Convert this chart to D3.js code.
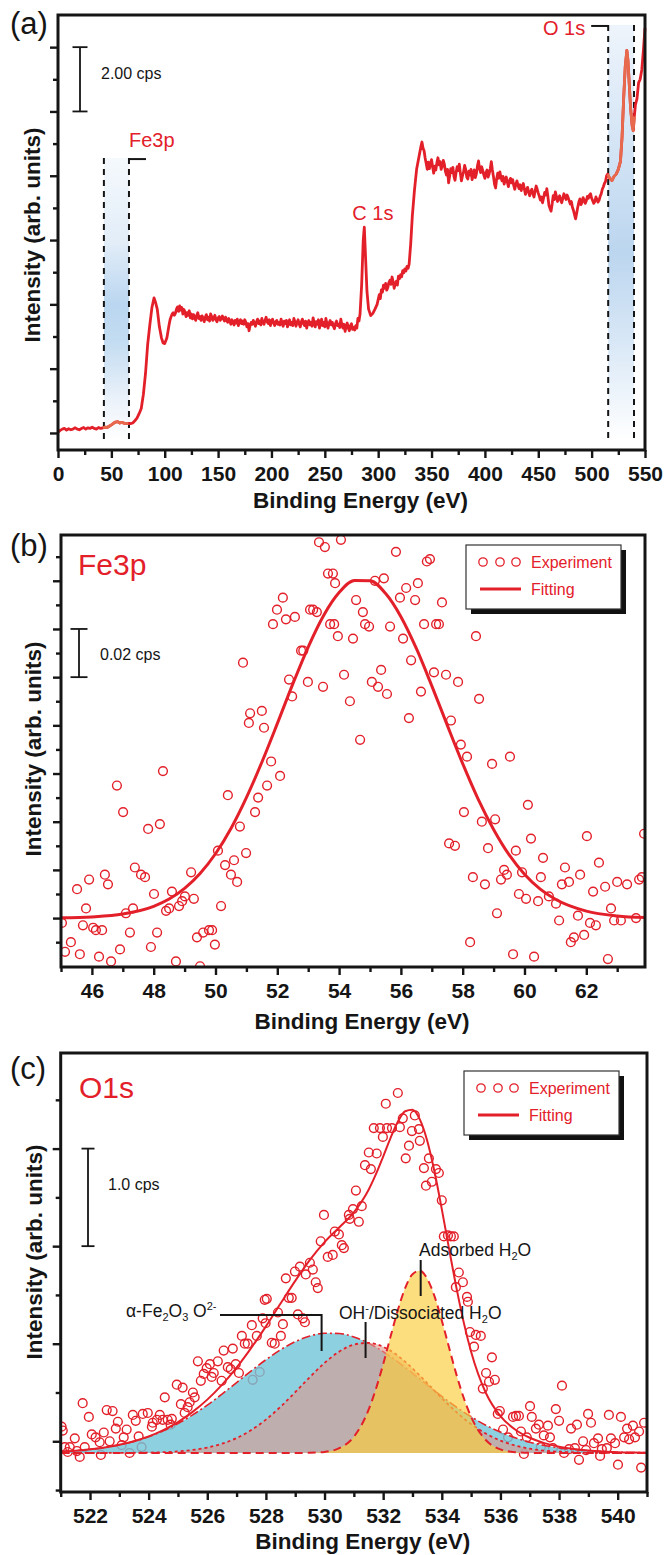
<!DOCTYPE html>
<html>
<head>
<meta charset="utf-8">
<script src="https://cdn.jsdelivr.net/npm/d3@7"></script>
<style>
  body { margin: 0; background: #fff; }
  svg { display: block; }
</style>
</head>
<body>
<svg id="fig" width="664" height="1555"></svg>
<script>
// ---------------- data ----------------
// (a) survey spectrum: [binding energy (eV), intensity (cps)]
const surveySpectrum = [
  [0,.02],[2,.08],[4,.12],[6,.14],[8,.09],[10,.13],[12,.10],[14,.12],[16,.16],[18,.12],[20,.10],[22,.14],[24,.17],[26,.12],[28,.16],[30,.14],[32,.18],[34,.14],[36,.12],[38,.17],[40,.14],[42,.16],
  [44,.18],[46,.17],[48,.21],[50,.25],[52,.30],[54,.34],[56,.35],[58,.31],[60,.33],[62,.30],[64,.29],[66,.30],[68,.29],[70,.31],[72,.38],[74,.46],[76,.60],[78,.76],[80,1.20],[82,1.85],[84,2.75],[86,3.35],[88,3.90],[90,4.20],[91.5,4.05],[93,3.85],[95,3.30],[97,2.95],[98.5,2.80],[100,2.78],[102,2.95],
  [104,3.35],[105,3.52],[106,3.62],[107,3.70],[108,3.74],[109,3.66],[110,3.72],[111,3.85],[112,3.92],[113,3.78],[114,3.95],[115,3.82],[116,3.90],[117,3.70],[118,3.84],[119,3.76],[120,3.62],[121,3.74],[122,3.66],[123,3.80],[124,3.58],[125,3.70],[126,3.55],[127,3.68],[128,3.60],[129,3.50],[130,3.66],[131,3.74],[132,3.56],[133,3.62],[134,3.50],[135,3.64],[136,3.58],[137,3.46],[138,3.60],[139,3.68],[140,3.52],[141,3.60],[142,3.48],[143,3.70],[144,3.62],[145,3.50],[146,3.58],[147,3.66],[148,3.52],[149,3.46],[150,3.58],
  [151,3.62],[152,3.50],[153,3.56],[154,3.64],[155,3.54],[156,3.48],[157,3.60],[158,3.50],[159,3.44],[160,3.56],[161,3.48],[162,3.38],[163,3.52],[164,3.44],[165,3.36],[166,3.50],[167,3.42],[168,3.54],[169,3.34],[170,3.46],[171,3.52],[172,3.40],[173,3.48],[174,3.38],[175,3.52],[176,3.44],[177,3.30],[178,3.40],[179,3.18],[180,3.34],[181,3.44],[182,3.38],[183,3.50],[184,3.42],[185,3.32],[186,3.46],[187,3.54],[188,3.40],[189,3.48],[190,3.36],[191,3.56],[192,3.44],[193,3.38],[194,3.50],[195,3.60],[196,3.46],[197,3.40],[198,3.52],[199,3.34],[200,3.48],
  [201,3.54],[202,3.42],[203,3.34],[204,3.46],[205,3.50],[206,3.38],[207,3.44],[208,3.36],[209,3.54],[210,3.42],[211,3.32],[212,3.48],[213,3.40],[214,3.50],[215,3.30],[216,3.42],[217,3.52],[218,3.36],[219,3.44],[220,3.34],[221,3.56],[222,3.46],[223,3.32],[224,3.44],[225,3.52],[226,3.38],[227,3.30],[228,3.46],[229,3.54],[230,3.40],[231,3.34],[232,3.48],[233,3.26],[234,3.42],[235,3.50],[236,3.36],[237,3.44],[238,3.32],[239,3.58],[240,3.44],[241,3.30],[242,3.46],[243,3.38],[244,3.52],[245,3.26],[246,3.40],[247,3.54],[248,3.34],[249,3.44],[250,3.30],
  [251,3.56],[252,3.40],[253,3.26],[254,3.42],[255,3.50],[256,3.36],[257,3.44],[258,3.32],[259,3.24],[260,3.40],[261,3.48],[262,3.34],[263,3.38],[264,3.28],[265,3.54],[266,3.36],[267,3.26],[268,3.38],[269,3.16],[270,3.32],[271,3.42],[272,3.26],[273,3.18],[274,3.34],[275,3.40],[276,3.22],[277,3.28],[278,3.20],[279,3.34],[280,3.26],[281,3.56],[282,3.48],[283,3.70],
  [284.5,4.60],[286,6.00],[287,6.40],[288,5.60],[289.5,4.40],[291,3.85],[293,3.65],[295,3.72],[297,3.85],[299,4.00],[301,4.30],[302,4.18],[303,4.45],[304,4.38],[305,4.60],[306,4.50],[307,4.65],[308,4.44],[309,4.52],[310,4.68],[311,4.75],[312,4.62],[313,4.85],[314,4.70],[315,4.50],[316,4.64],[317,4.72],[318,4.60],[319,4.88],[320,4.80],[321,4.92],[322,4.86],[323,5.05],[324,4.98],[325,5.10],[326,5.04],[327,5.18],[328,5.12],[329,5.25],
  [330.5,5.90],[332,6.75],[334,7.55],[336,8.20],[338,8.55],[340,8.90],[341,9.05],[342,8.86],
  [343,8.78],[344,8.55],[345,8.38],[346,8.20],[347,8.42],[348,8.22],[349,8.36],[350,8.50],[351,8.28],[352,8.08],[353,8.30],[354,8.18],[355,8.40],[356,8.56],[357,8.34],[358,8.44],[359,8.20],[360,8.30],[361,8.48],[362,8.36],[363,8.14],[364,8.02],[365,8.20],[366,7.78],[367,8.00],[368,8.22],[369,8.10],[370,8.26],[371,7.98],[372,7.86],[373,8.10],[374,8.28],[375,8.16],[376,8.36],[377,8.08],[378,7.84],[379,8.00],[380,8.12],[381,8.32],[382,8.20],[383,7.96],[384,7.90],[385,8.14],[386,8.02],[387,8.20],[388,7.88],[389,8.02],[390,8.18],[391,7.94],[392,8.06],[393,8.30],[394,8.46],[395,8.22],[396,8.10],[397,8.28],[398,8.16],[399,8.02],[400,7.92],
  [401,8.10],[402,8.18],[403,7.96],[404,8.06],[405,8.22],[406,8.44],[407,8.18],[408,7.98],[409,7.74],[410,7.62],[411,7.90],[412,8.08],[413,7.92],[414,8.12],[415,7.96],[416,7.84],[417,7.98],[418,7.74],[419,7.86],[420,7.96],[421,7.80],[422,7.66],[423,7.84],[424,7.92],[425,7.78],[426,7.88],[427,7.70],[428,7.58],[429,7.74],[430,7.84],[431,7.70],[432,7.60],[433,7.72],[434,7.54],[435,7.66],[436,7.76],[437,7.58],[438,7.42],[439,7.56],[440,7.64],[441,7.48],[442,7.38],[443,7.52],[444,7.58],[445,7.44],[446,7.34],[447,7.52],[448,7.68],[449,7.58],[450,7.46],
  [451,7.36],[452,7.24],[453,7.34],[454,7.16],[455,7.32],[456,7.48],[457,7.40],[458,7.60],[459,7.36],[460,7.08],[461,6.98],[462,6.90],[463,7.12],[464,7.38],[465,7.26],[466,7.50],[467,7.36],[468,7.20],[469,7.30],[470,7.38],[471,7.24],[472,7.16],[473,7.30],[474,7.44],[475,7.34],[476,7.26],[477,7.40],[478,7.32],[479,7.22],[480,7.12],[481,7.20],[482,7.02],[483,6.92],[484,6.78],[485,6.66],[486,6.84],[487,7.02],[488,7.18],[489,7.28],[490,7.10],[491,7.18],[492,7.32],[493,7.24],[494,7.14],[495,7.22],[496,7.36],[497,7.30],[498,7.40],[499,7.44],[500,7.30],
  [501,7.22],[502,7.14],[503,7.20],[504,7.34],[505,7.26],[506,7.18],[507,7.24],[508,7.36],[509,7.44],[510,7.58],[511,7.66],[512,7.76],[513,7.82],[514,8.00],
  [515,8.05],[517,7.92],[519,7.85],[521,7.98],[523,8.05],[525,8.20],[527,8.45],[528.5,9.20],[530,10.40],[531.5,11.40],[533,11.90],[534,11.60],[535,11.00],[536.5,10.10],[538,9.55],[539,9.40],[540,9.85],[541,10.20],[542.5,10.40],[544,10.90],[545.5,11.00],[547,11.30],[548.5,11.90],[550,12.60]
];
// energy windows picked out in the survey (eV)
const surveyWindows = [
  { name: "Fe3p", from: 43, to: 66.5 },
  { name: "O 1s", from: 515.5, to: 539.7 }
];
const surveyPeaks = [{ name: "C 1s", energy: 287 }];
const surveyXMajor = [0,50,100,150,200,250,300,350,400,450,500,550];
const surveyXMinor = [25,75,125,175,225,275,325,375,425,475,525];
const surveyYMajor = [0,2,4,6,8,10,12];
const surveyYMinor = [1,3,5,7,9,11];

// (b) Fe 3p high-resolution scan: [binding energy (eV), intensity (cps)]
const fe3pExperiment = [
  [45.03,-.002],[45.13,-.014],[45.32,-.010],[45.52,.012],[45.61,-.015],[45.71,-.003],[45.81,.004],[45.91,.016],[46.04,-.004],[46.13,-.005],[46.23,-.016],[46.33,-.005],[46.42,.018],[46.52,.014],[46.62,-.018],[46.81,.055],[46.91,-.013],[47.01,.044],[47.10,.002],[47.23,-.006],[47.33,.004],[47.39,.021],[47.59,.018],[47.72,.017],[47.82,.037],[47.91,-.012],[48.01,.010],[48.11,-.006],[48.20,.039],[48.30,.061],[48.40,.003],[48.50,.004],[48.59,.011],[48.72,-.018],[48.82,.005],[48.92,.007],[49.01,.009],[49.21,.019],[49.30,.008],[49.40,-.008],[49.50,-.020],[49.60,-.006],[49.79,-.005],[49.89,-.005],[49.98,-.011],
  [50.08,.028],[50.18,.005],[50.31,.022],[50.40,.051],[50.50,.018],[50.60,.024],[50.70,.015],[50.79,.038],[50.89,.106],[50.99,.027],[51.08,.081],[51.12,.085],[51.28,.044],[51.38,.050],[51.50,.086],[51.57,.079],[51.67,.055],[51.80,.065],[51.86,.122],[51.99,.128],[52.09,.059],[52.18,.133],[52.28,.124],[52.38,.099],[52.48,.092],[52.57,.125],[52.77,.111],[52.84,.111],[52.99,.098],[53.06,.128],[53.16,.128],[53.28,.127],[53.35,.156],[53.48,.096],[53.54,.154],[53.64,.143],[53.71,.122],[53.80,.143],[53.84,.122],[53.87,.139],[53.96,.117],
  [54.06,.157],[54.16,.101],[54.35,.090],[54.45,.116],[54.55,.132],[54.68,.074],[54.77,.127],[54.84,.122],[54.97,.121],[55.06,.098],[55.16,.140],[55.26,.096],[55.36,.103],[55.45,.141],[55.55,.093],[55.65,.121],[55.84,.152],[55.97,.133],[56.07,.116],[56.17,.137],[56.26,.083],[56.33,.107],[56.46,.132],[56.55,.139],[56.65,.094],[56.75,.122],[56.84,.148],[56.94,.149],[57.07,.102],[57.14,.122],[57.23,.122],[57.33,.131],[57.46,.101],[57.56,.031],[57.62,.082],[57.75,.030],[57.85,.098],[57.94,.072],
  [58.04,.044],[58.14,.067],[58.24,-.010],[58.33,.017],[58.43,.117],[58.53,.091],[58.62,.040],[58.72,.014],[58.82,.029],[58.95,.064],[59.05,.041],[59.11,.002],[59.24,.016],[59.34,.020],[59.43,.018],[59.53,.067],[59.63,-.015],[59.72,.028],[59.82,.010],[59.92,.019],[60.05,.008],[60.11,.047],[60.21,.033],[60.31,-.016],[60.44,.007],[60.53,.017],[60.60,.025],[60.79,.009],[61.02,.006],[61.12,-.001],[61.21,.014],[61.31,.021],[61.44,.015],[61.50,-.010],[61.60,-.008],[61.73,.001],[61.80,.018],[61.93,-.007],
  [62.02,.034],[62.12,-.002],[62.22,.011],[62.31,-.003],[62.41,.023],[62.61,.013],[62.70,-.017],[62.80,.004],[62.90,-.001],[63.00,.015],[63.12,-.001],[63.32,.014],[63.61,.000],[63.71,.016],[63.80,.017],[63.87,.035]
];
const fe3pFit = [
  [45,.0001],[46,.0005],[47,.0017],[48,.0049],[48.5,.0079],[49,.0123],[49.5,.0185],[50,.0267],[50.5,.0372],[51,.0500],[51.5,.0647],[52,.0807],[52.5,.0971],[53,.1125],[53.5,.1256],[54,.1351],[54.5,.1401],[55,.1400],[55.5,.1348],[56,.1251],[56.5,.1119],[57,.0964],[57.5,.0801],[58,.0641],[58.5,.0494],[59,.0368],[59.5,.0263],[60,.0182],[60.5,.0121],[61,.0078],[62,.0029],[63,.0009],[63.9,.0002]
];
const fe3pXMajor = [46,48,50,52,54,56,58,60,62];
const fe3pXMinor = [45,47,49,51,53,55,57,59,61,63];
const fe3pYMajor = [0,.02,.04,.06,.08,.10,.12,.14];
const fe3pYMinor = [-.01,.01,.03,.05,.07,.09,.11,.13,.15];

// (c) O 1s high-resolution scan: [binding energy (eV), intensity (cps)]
const o1sExperiment = [
  [521.03,2.15],[521.07,2.11],[521.14,1.94],[521.24,1.89],[521.31,1.94],[521.48,2.03],[521.55,1.90],[521.65,1.84],[521.75,2.39],[521.82,1.94],[521.96,2.25],[522.06,2.07],[522.19,2.04],[522.33,1.99],[522.37,1.86],[522.47,2.09],[522.57,2.32],[522.67,2.00],[522.77,2.31],[522.88,2.13],[522.95,2.20],[523.08,1.96],[523.15,2.04],[523.25,2.12],[523.35,1.88],[523.46,2.27],[523.56,2.21],[523.66,2.05],[523.76,1.94],[523.80,2.28],[523.97,2.29],
  [524.11,2.15],[524.14,2.19],[524.28,2.22],[524.38,2.27],[524.48,2.22],[524.55,2.45],[524.65,2.22],[524.75,2.17],[524.79,2.23],[524.96,2.58],[525.10,2.38],[525.16,2.55],[525.23,2.29],[525.33,2.35],[525.40,2.40],[525.51,2.50],[525.57,2.45],[525.68,2.82],[525.78,2.62],[525.88,2.69],[525.98,2.75],[526.09,2.79],[526.15,2.66],[526.22,2.70],[526.36,2.82],[526.49,2.62],[526.56,2.93],[526.70,2.76],[526.80,2.74],[526.87,2.95],[526.97,2.79],
  [527.08,2.70],[527.18,3.08],[527.28,3.00],[527.38,3.00],[527.52,3.19],[527.55,2.63],[527.69,3.08],[527.79,2.71],[527.89,3.26],[527.96,3.45],[527.99,3.21],[528.03,3.46],[528.20,3.01],[528.30,3.00],[528.41,3.32],[528.51,3.08],[528.58,3.20],[528.68,3.67],[528.78,3.47],[528.88,3.47],[528.99,3.74],[529.09,3.30],[529.16,3.79],[529.26,3.26],[529.33,3.22],[529.36,3.71],[529.50,3.83],[529.60,3.76],[529.70,3.63],[529.77,3.57],[529.87,4.05],[529.98,4.32],
  [530.11,3.89],[530.28,3.91],[530.35,4.15],[530.49,4.12],[530.59,4.01],[530.66,3.98],[530.83,4.32],[530.86,4.28],[530.97,4.38],[531.07,4.57],[531.17,4.25],[531.27,4.41],[531.38,4.83],[531.51,4.96],[531.58,4.79],[531.68,5.21],[531.78,4.95],[531.89,5.21],[531.99,5.12],[532.09,5.46],[532.13,5.21],[532.30,5.21],[532.50,5.57],[532.57,5.22],[532.67,5.31],[532.77,4.90],[532.88,5.03],[532.98,5.18],[533.08,5.34],[533.22,5.20],[533.25,5.08],[533.39,4.80],[533.46,4.62],[533.56,4.90],[533.66,4.66],[533.80,4.79],[533.90,4.75],
  [534.00,4.47],[534.07,4.10],[534.21,4.11],[534.31,4.10],[534.41,4.10],[534.48,3.58],[534.58,3.73],[534.72,3.63],[534.86,3.48],[534.89,3.43],[534.96,3.12],[535.10,2.97],[535.16,3.09],[535.33,3.08],[535.40,2.54],[535.51,2.70],[535.61,2.61],[535.71,2.86],[535.81,2.63],[535.91,2.28],[535.98,2.31],[536.09,2.12],[536.26,2.04],[536.43,2.25],[536.53,2.26],[536.63,2.26],[536.70,2.10],[536.80,1.87],[536.90,2.04],
  [537.01,2.36],[537.07,2.25],[537.21,2.13],[537.31,2.17],[537.38,1.94],[537.48,2.06],[537.62,2.16],[537.69,2.04],[537.79,1.93],[537.89,2.33],[538.00,2.21],[538.10,2.57],[538.17,1.88],[538.34,1.92],[538.41,2.13],[538.54,1.93],[538.61,2.17],[538.68,1.81],[538.82,2.00],[538.92,1.91],[538.99,2.28],[539.09,2.19],[539.19,1.98],[539.33,2.03],[539.40,1.85],[539.46,1.92],[539.63,1.93],[539.70,2.27],[539.77,2.03],[539.91,1.98],
  [540.01,1.76],[540.11,2.25],[540.22,2.04],[540.32,2.13],[540.39,2.02],[540.52,2.16],[540.59,2.04],[540.73,2.10],[540.80,1.73],[540.90,2.19]
];
// fitted components on a shared energy grid (cps above the background)
const o1sGrid = [521,521.5,522,522.5,523,523.5,524,524.5,525,525.5,526,526.5,527,527.5,528,528.5,529,529.5,530,530.5,531,531.5,
  531.75,532,532.25,532.5,532.75,533,533.25,533.5,533.75,534,534.25,534.5,534.75,535,
  535.5,536,536.5,537,537.5,538,538.5,539,539.5,540,540.5,541];
const o1sLattice = [.015,.024,.037,.056,.083,.119,.166,.227,.301,.390,.491,.603,.722,.842,.956,1.058,1.141,1.199,1.227,1.224,1.190,1.126,
  1.085,1.039,.988,.934,.877,.818,.758,.698,.638,.580,.524,.470,.419,.371,
  .285,.214,.156,.111,.077,.052,.034,.022,.014,.008,.005,.003];
const o1sHydroxyl = [0,0,0,0,.001,.002,.004,.008,.016,.031,.056,.095,.153,.235,.342,.474,.623,.778,.923,1.039,1.111,1.129,
  1.116,1.089,1.049,.997,.936,.867,.793,.717,.639,.562,.488,.419,.354,.296,
  .199,.127,.077,.044,.024,.013,.006,.003,.001,0,0,0];
const o1sAdsorbed = [0,0,0,0,0,0,0,0,0,0,0,0,0,0,0,0,0,.002,.011,.049,.166,.441,
  .654,.910,1.191,1.464,1.690,1.833,1.868,1.788,1.608,1.358,1.078,.803,.563,.370,
  .133,.037,.008,.001,0,0,0,0,0,0,0,0];
const o1sBackground = 1.88;
const o1sXMajor = [522,524,526,528,530,532,534,536,538,540];
const o1sXMinor = [521,523,525,527,529,531,533,535,537,539,541];
const o1sYMajor = [2,3,4,5];
const o1sYMinor = [1.5,2.5,3.5,4.5,5.5];

// ---------------- drawing ----------------
const FONT = '"Liberation Sans", Arial, Helvetica, sans-serif';
const INK = "#151515";
const RED = "#e3202a";
const ORANGE = "#e76a4d";

const svg = d3.select("#fig").attr("font-family", FONT);
const defs = svg.append("defs");

function gradient(id, stops) {
  const g = defs.append("linearGradient").attr("id", id)
    .attr("x1", 0).attr("y1", 0).attr("x2", 0).attr("y2", 1);
  stops.forEach(([o, c]) => g.append("stop").attr("offset", o).attr("stop-color", c));
}
gradient("bandFe", [[0, "#f5f9fd"], [0.3, "#e2edf8"], [0.52, "#bad6f0"], [0.65, "#c3dcf1"], [0.86, "#ebf2fa"], [1, "#ffffff"]]);
gradient("bandO",  [[0, "#eef4fb"], [0.3, "#d3e4f5"], [0.55, "#bcd6ef"], [0.76, "#d8e7f6"], [1, "#ffffff"]]);

function clip(id, x, y) {
  const [xl, xr] = x.range(), [yb, yt] = y.range();
  defs.append("clipPath").attr("id", id).append("rect")
    .attr("x", xl).attr("y", yt).attr("width", xr - xl).attr("height", yb - yt);
}

function frame(x, y, c) {
  const [xl, xr] = x.range(), [yb, yt] = y.range();
  const g = svg.append("g");
  const style = s => {
    s.select(".domain").remove();
    s.attr("color", INK);
    s.selectAll("line").attr("stroke-width", 2.4);
  };
  g.append("g").attr("transform", `translate(0,${yb})`)
    .call(d3.axisBottom(x).tickValues(c.xMinor).tickSize(5).tickFormat(""))
    .call(style);
  g.append("g").attr("transform", `translate(0,${yb})`)
    .call(d3.axisBottom(x).tickValues(c.xMajor).tickSize(8).tickPadding(8).tickFormat(d3.format("d")))
    .call(style)
    .call(s => s.selectAll("text").attr("font-size", 21).attr("font-weight", "bold")
      .attr("font-family", FONT).attr("fill", INK));
  g.append("g").attr("transform", `translate(${xl},0)`)
    .call(d3.axisLeft(y).tickValues(c.yMinor).tickSize(5).tickFormat(""))
    .call(style);
  g.append("g").attr("transform", `translate(${xl},0)`)
    .call(d3.axisLeft(y).tickValues(c.yMajor).tickSize(8).tickFormat(""))
    .call(style);
  g.append("rect").attr("x", xl).attr("y", yt).attr("width", xr - xl).attr("height", yb - yt)
    .attr("fill", "none").attr("stroke", INK).attr("stroke-width", 3);
  g.append("text").attr("x", (xl + xr) / 2 + 9).attr("y", yb + c.titleGap)
    .attr("text-anchor", "middle").attr("font-size", 22.5).attr("font-weight", "bold").attr("fill", INK)
    .text("Binding Energy (eV)");
  g.append("text").attr("transform", `translate(${c.yTitleX},${c.yTitleY}) rotate(-90)`)
    .attr("text-anchor", "middle").attr("font-size", 22.5).attr("font-weight", "bold").attr("fill", INK)
    .text("Intensity (arb. units)");
  svg.append("text").attr("x", 10).attr("y", c.tagY).attr("font-size", 31).attr("fill", INK).text(c.tag);
}

function scaleBar(y, bx, half, v0, v1, label, tx, ty) {
  const g = svg.append("g").attr("stroke", INK).attr("stroke-width", 1.8);
  g.append("line").attr("x1", bx).attr("x2", bx).attr("y1", y(v0)).attr("y2", y(v1));
  [v0, v1].forEach(v => g.append("line").attr("x1", bx - half).attr("x2", bx + half).attr("y1", y(v)).attr("y2", y(v)));
  svg.append("text").attr("x", tx).attr("y", ty).attr("font-size", 16).attr("fill", INK).text(label);
}

function legend(x0, y0, w, h) {
  const g = svg.append("g");
  g.append("rect").attr("x", x0 + 5).attr("y", y0 + 5).attr("width", w).attr("height", h).attr("fill", "#111");
  g.append("rect").attr("x", x0).attr("y", y0).attr("width", w).attr("height", h)
    .attr("fill", "#fff").attr("stroke", "#333").attr("stroke-width", 1.2);
  [17, 34, 50].forEach(dx => g.append("circle").attr("cx", x0 + dx).attr("cy", y0 + 17).attr("r", 4.2)
    .attr("fill", "none").attr("stroke", RED).attr("stroke-width", 1.3));
  g.append("text").attr("x", x0 + 65).attr("y", y0 + 23).attr("font-size", 16).attr("fill", RED).text("Experiment");
  g.append("line").attr("x1", x0 + 14).attr("x2", x0 + 55).attr("y1", y0 + 44).attr("y2", y0 + 44)
    .attr("stroke", RED).attr("stroke-width", 3);
  g.append("text").attr("x", x0 + 65).attr("y", y0 + 50).attr("font-size", 16).attr("fill", RED).text("Fitting");
}

// ---------- (a) survey ----------
{
  const x = d3.scaleLinear([0, 550], [58, 645]);
  const y = d3.scaleLinear([-0.53, 13.0], [450, 15]);
  const dash = { stroke: INK, "stroke-width": 2, "stroke-dasharray": "6,5" };

  // highlighted windows: gradient band, dashed edges, bracket and label
  const bandTop = { "Fe3p": 8.55, "O 1s": 12.69 };
  surveyWindows.forEach((w, i) => {
    const top = y(bandTop[w.name]), bot = y(-0.22);
    svg.append("rect").attr("x", x(w.from)).attr("y", top).attr("width", x(w.to) - x(w.from))
      .attr("height", bot - top).attr("fill", i === 0 ? "url(#bandFe)" : "url(#bandO)");
    [w.from, w.to].forEach(e => {
      const l = svg.append("line").attr("x1", x(e)).attr("x2", x(e)).attr("y1", top).attr("y2", bot);
      Object.entries(dash).forEach(([k, v]) => l.attr(k, v));
    });
    const edge = i === 0 ? x(w.to) : x(w.from);
    const dir = i === 0 ? 1 : -1;
    svg.append("line").attr("x1", edge).attr("x2", edge + dir * 17).attr("y1", top + 1).attr("y2", top + 1)
      .attr("stroke", INK).attr("stroke-width", 2);
    svg.append("text").attr("x", i === 0 ? edge : edge - 23).attr("y", i === 0 ? top - 11 : top + 10)
      .attr("text-anchor", i === 0 ? "start" : "end").attr("font-size", 20).attr("fill", RED).text(w.name);
  });

  const line = d3.line().x(d => x(d[0])).y(d => y(d[1]));
  svg.append("path").datum(surveySpectrum).attr("d", line).attr("fill", "none")
    .attr("stroke", RED).attr("stroke-width", 2.8).attr("stroke-linejoin", "round");
  surveyWindows.forEach(w => {
    const seg = surveySpectrum.filter(d => d[0] >= w.from - 1 && d[0] <= w.to + 0.5);
    svg.append("path").datum(seg).attr("d", line).attr("fill", "none")
      .attr("stroke", ORANGE).attr("stroke-width", 2.8).attr("stroke-linejoin", "round");
  });

  surveyPeaks.forEach(p => {
    svg.append("text").attr("x", x(p.energy) - 12).attr("y", y(6.62)).attr("font-size", 20)
      .attr("fill", RED).text(p.name);
  });

  frame(x, y, { xMajor: surveyXMajor, xMinor: surveyXMinor, yMajor: surveyYMajor, yMinor: surveyYMinor,
    titleGap: 58, yTitleX: 40, yTitleY: 235, tag: "(a)", tagY: 34 });
  scaleBar(y, 80, 7.5, 10, 12, "2.00 cps", 101, 79);
}

// ---------- (b) Fe 3p ----------
{
  const x = d3.scaleLinear([45, 63.9], [61, 645]);
  const y = d3.scaleLinear([-0.0203, 0.159], [967, 535]);
  clip("clipB", x, y);
  const g = svg.append("g").attr("clip-path", "url(#clipB)");
  g.selectAll("circle").data(fe3pExperiment).join("circle")
    .attr("cx", d => x(d[0])).attr("cy", d => y(d[1])).attr("r", 4.4)
    .attr("fill", "none").attr("stroke", RED).attr("stroke-width", 1.4);
  g.append("path").datum(fe3pFit)
    .attr("d", d3.line().x(d => x(d[0])).y(d => y(d[1])).curve(d3.curveMonotoneX))
    .attr("fill", "none").attr("stroke", RED).attr("stroke-width", 3);

  frame(x, y, { xMajor: fe3pXMajor, xMinor: fe3pXMinor, yMajor: fe3pYMajor, yMinor: fe3pYMinor,
    titleGap: 62, yTitleX: 41, yTitleY: 749, tag: "(b)", tagY: 556 });
  svg.append("text").attr("x", 78).attr("y", 575).attr("font-size", 30).attr("fill", RED).text("Fe3p");
  scaleBar(y, 79, 8.5, 0.10, 0.12, "0.02 cps", 100, 660);
  legend(466, 545, 155, 64);
}

// ---------- (c) O 1s ----------
{
  const x = d3.scaleLinear([521, 541], [60.7, 647]);
  const y = d3.scaleLinear([1.48, 5.98], [1492, 1053]);
  clip("clipC", x, y);
  const g = svg.append("g").attr("clip-path", "url(#clipC)");

  g.selectAll("circle").data(o1sExperiment).join("circle")
    .attr("cx", d => x(d[0])).attr("cy", d => y(d[1])).attr("r", 4.4)
    .attr("fill", "none").attr("stroke", RED).attr("stroke-width", 1.4);

  const comps = [
    { values: o1sLattice,  fill: "rgba(112,198,218,0.80)", dash: "9,3,2,3", width: 1.6 },
    { values: o1sHydroxyl, fill: "rgba(225,150,140,0.60)", dash: "3,3",     width: 1.8 },
    { values: o1sAdsorbed, fill: "rgba(250,205,60,0.66)",  dash: "8,5",     width: 2.0 }
  ];
  const area = d3.area().x(d => x(d[0])).y0(y(o1sBackground)).y1(d => y(o1sBackground + d[1]))
    .curve(d3.curveMonotoneX);
  const edge = d3.line().x(d => x(d[0])).y(d => y(o1sBackground + d[1])).curve(d3.curveMonotoneX);
  comps.forEach(c => {
    const pts = o1sGrid.map((e, i) => [e, c.values[i]]);
    g.append("path").datum(pts).attr("d", area).attr("fill", c.fill);
    g.append("path").datum(pts).attr("d", edge).attr("fill", "none")
      .attr("stroke", RED).attr("stroke-width", c.width).attr("stroke-dasharray", c.dash);
  });
  const envelope = o1sGrid.map((e, i) => [e, o1sLattice[i] + o1sHydroxyl[i] + o1sAdsorbed[i]]);
  g.append("path").datum(envelope).attr("d", edge).attr("fill", "none")
    .attr("stroke", RED).attr("stroke-width", 2);

  frame(x, y, { xMajor: o1sXMajor, xMinor: o1sXMinor, yMajor: o1sYMajor, yMinor: o1sYMinor,
    titleGap: 57, yTitleX: 42, yTitleY: 1252, tag: "(c)", tagY: 1079 });
  svg.append("text").attr("x", 79).attr("y", 1098).attr("font-size", 30).attr("fill", RED).text("O1s");
  scaleBar(y, 88, 6.5, 4.0, 5.0, "1.0 cps", 108, 1190);
  legend(464, 1071, 155, 64);

  // component labels with pointers
  const lab = svg.append("g").attr("font-size", 17.5).attr("fill", INK);
  const ptr = (pts) => svg.append("polyline").attr("points", pts.map(p => p.join(",")).join(" "))
    .attr("fill", "none").attr("stroke", INK).attr("stroke-width", 2);

  const t1 = lab.append("text").attr("x", 126).attr("y", 1317);
  t1.append("tspan").text("α-Fe");
  t1.append("tspan").attr("font-size", 11).attr("dy", 4).text("2");
  t1.append("tspan").attr("dy", -4).text("O");
  t1.append("tspan").attr("font-size", 11).attr("dy", 4).text("3");
  t1.append("tspan").attr("dy", -4).text(" O");
  t1.append("tspan").attr("font-size", 11).attr("dy", -7).text("2-");
  ptr([[220, 1315], [x(529.9), 1315], [x(529.9), 1351]]);

  const t2 = lab.append("text").attr("x", 339).attr("y", 1319);
  t2.append("tspan").text("OH");
  t2.append("tspan").attr("font-size", 11).attr("dy", -7).text("-");
  t2.append("tspan").attr("dy", 7).text("/Dissociated H");
  t2.append("tspan").attr("font-size", 11).attr("dy", 4).text("2");
  t2.append("tspan").attr("dy", -4).text("O");
  ptr([[x(531.4), 1322], [x(531.4), 1358]]);

  const t3 = lab.append("text").attr("x", 419).attr("y", 1256);
  t3.append("tspan").text("Adsorbed H");
  t3.append("tspan").attr("font-size", 11).attr("dy", 4).text("2");
  t3.append("tspan").attr("dy", -4).text("O");
  ptr([[x(533.28), 1260], [x(533.28), 1296]]);
}
</script>
</body>
</html>
